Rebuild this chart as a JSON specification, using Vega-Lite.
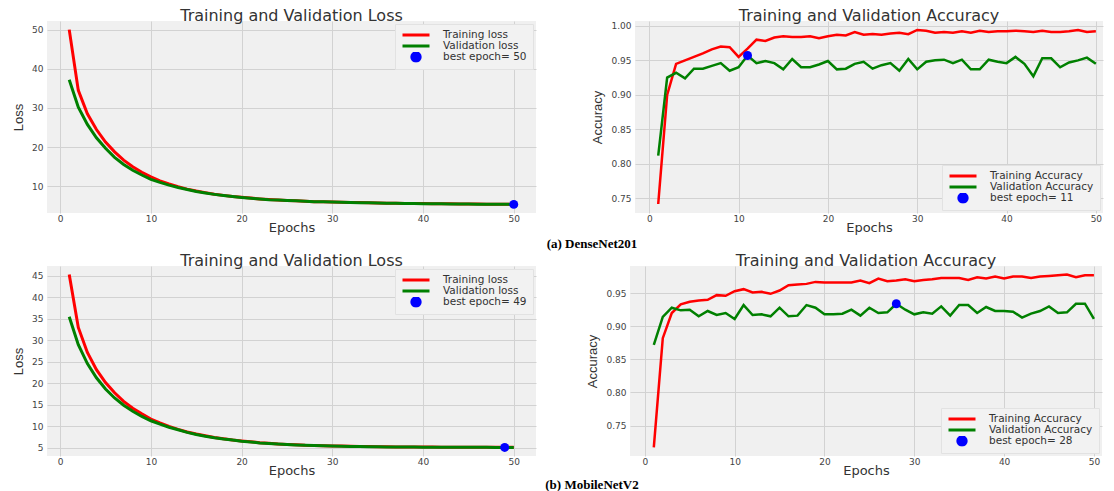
{
  "$schema": "https://vega.github.io/schema/vega-lite/v6.json",
  "padding": {"left": 12, "top": 8, "right": 0, "bottom": 0},
  "spacing": 2,
  "config": {
    "view": {"fill": "#f0f0f0", "stroke": null},
    "axis": {
      "labelFont": "DejaVu Sans", "labelFontSize": 9, "labelColor": "#444", "labelOverlap": false, "tickCount": 20,
      "titleFont": "DejaVu Sans", "titleFontSize": 13, "titleFontWeight": "normal", "titleColor": "#333",
      "domain": false, "ticks": false, "grid": true, "gridColor": "#d2d2d2", "gridWidth": 1,
      "labelPadding": 1, "titlePadding": -2
    },
    "axisY": {"titleFont": "Liberation Sans", "titleFontSize": 13, "titlePadding": 6, "labelPadding": 4},
    "title": {"font": "DejaVu Sans", "fontSize": 16, "fontWeight": "normal", "color": "#333", "offset": -3},
    "legend": {
      "labelFont": "DejaVu Sans", "labelFontSize": 10.5, "labelColor": "#333",
      "fillColor": "#f2f2f2", "strokeColor": "#e2e2e2", "padding": 6, "rowPadding": 0,
      "symbolStrokeWidth": 3, "labelLimit": 300, "symbolType": "stroke", "symbolSize": 729, "clipHeight": 10, "labelOffset": 12
    }
  },
  "datasets": {
    "hist": [
      {"model":"DenseNet201","epoch":1,"Training loss":50.0,"Validation loss":37.2,"Training Accuracy":0.742,"Validation Accuracy":0.812},
      {"model":"DenseNet201","epoch":2,"Training loss":34.5,"Validation loss":30.2,"Training Accuracy":0.900,"Validation Accuracy":0.925},
      {"model":"DenseNet201","epoch":3,"Training loss":28.5,"Validation loss":25.8,"Training Accuracy":0.945,"Validation Accuracy":0.932},
      {"model":"DenseNet201","epoch":4,"Training loss":24.5,"Validation loss":22.4,"Training Accuracy":0.950,"Validation Accuracy":0.924},
      {"model":"DenseNet201","epoch":5,"Training loss":21.3,"Validation loss":19.7,"Training Accuracy":0.955,"Validation Accuracy":0.938},
      {"model":"DenseNet201","epoch":6,"Training loss":18.8,"Validation loss":17.4,"Training Accuracy":0.960,"Validation Accuracy":0.938},
      {"model":"DenseNet201","epoch":7,"Training loss":16.7,"Validation loss":15.6,"Training Accuracy":0.966,"Validation Accuracy":0.942},
      {"model":"DenseNet201","epoch":8,"Training loss":15.0,"Validation loss":14.1,"Training Accuracy":0.970,"Validation Accuracy":0.946},
      {"model":"DenseNet201","epoch":9,"Training loss":13.6,"Validation loss":12.9,"Training Accuracy":0.969,"Validation Accuracy":0.935},
      {"model":"DenseNet201","epoch":10,"Training loss":12.4,"Validation loss":11.8,"Training Accuracy":0.955,"Validation Accuracy":0.940},
      {"model":"DenseNet201","epoch":11,"Training loss":11.4,"Validation loss":11.0,"Training Accuracy":0.967,"Validation Accuracy":0.957},
      {"model":"DenseNet201","epoch":12,"Training loss":10.6,"Validation loss":10.3,"Training Accuracy":0.980,"Validation Accuracy":0.946},
      {"model":"DenseNet201","epoch":13,"Training loss":9.9,"Validation loss":9.7,"Training Accuracy":0.978,"Validation Accuracy":0.949},
      {"model":"DenseNet201","epoch":14,"Training loss":9.3,"Validation loss":9.2,"Training Accuracy":0.983,"Validation Accuracy":0.946},
      {"model":"DenseNet201","epoch":15,"Training loss":8.8,"Validation loss":8.7,"Training Accuracy":0.985,"Validation Accuracy":0.937},
      {"model":"DenseNet201","epoch":16,"Training loss":8.4,"Validation loss":8.3,"Training Accuracy":0.984,"Validation Accuracy":0.952},
      {"model":"DenseNet201","epoch":17,"Training loss":8.0,"Validation loss":7.95,"Training Accuracy":0.984,"Validation Accuracy":0.940},
      {"model":"DenseNet201","epoch":18,"Training loss":7.7,"Validation loss":7.65,"Training Accuracy":0.985,"Validation Accuracy":0.940},
      {"model":"DenseNet201","epoch":19,"Training loss":7.4,"Validation loss":7.4,"Training Accuracy":0.982,"Validation Accuracy":0.944},
      {"model":"DenseNet201","epoch":20,"Training loss":7.2,"Validation loss":7.15,"Training Accuracy":0.985,"Validation Accuracy":0.949},
      {"model":"DenseNet201","epoch":21,"Training loss":7.0,"Validation loss":6.95,"Training Accuracy":0.987,"Validation Accuracy":0.937},
      {"model":"DenseNet201","epoch":22,"Training loss":6.8,"Validation loss":6.8,"Training Accuracy":0.986,"Validation Accuracy":0.938},
      {"model":"DenseNet201","epoch":23,"Training loss":6.65,"Validation loss":6.6,"Training Accuracy":0.991,"Validation Accuracy":0.945},
      {"model":"DenseNet201","epoch":24,"Training loss":6.5,"Validation loss":6.5,"Training Accuracy":0.987,"Validation Accuracy":0.948},
      {"model":"DenseNet201","epoch":25,"Training loss":6.4,"Validation loss":6.4,"Training Accuracy":0.988,"Validation Accuracy":0.938},
      {"model":"DenseNet201","epoch":26,"Training loss":6.3,"Validation loss":6.3,"Training Accuracy":0.987,"Validation Accuracy":0.943},
      {"model":"DenseNet201","epoch":27,"Training loss":6.2,"Validation loss":6.2,"Training Accuracy":0.989,"Validation Accuracy":0.946},
      {"model":"DenseNet201","epoch":28,"Training loss":6.1,"Validation loss":6.1,"Training Accuracy":0.990,"Validation Accuracy":0.935},
      {"model":"DenseNet201","epoch":29,"Training loss":6.05,"Validation loss":6.05,"Training Accuracy":0.988,"Validation Accuracy":0.952},
      {"model":"DenseNet201","epoch":30,"Training loss":6.0,"Validation loss":6.0,"Training Accuracy":0.994,"Validation Accuracy":0.937},
      {"model":"DenseNet201","epoch":31,"Training loss":5.95,"Validation loss":5.94,"Training Accuracy":0.993,"Validation Accuracy":0.948},
      {"model":"DenseNet201","epoch":32,"Training loss":5.9,"Validation loss":5.89,"Training Accuracy":0.990,"Validation Accuracy":0.950},
      {"model":"DenseNet201","epoch":33,"Training loss":5.85,"Validation loss":5.84,"Training Accuracy":0.991,"Validation Accuracy":0.951},
      {"model":"DenseNet201","epoch":34,"Training loss":5.8,"Validation loss":5.79,"Training Accuracy":0.990,"Validation Accuracy":0.946},
      {"model":"DenseNet201","epoch":35,"Training loss":5.76,"Validation loss":5.75,"Training Accuracy":0.992,"Validation Accuracy":0.951},
      {"model":"DenseNet201","epoch":36,"Training loss":5.72,"Validation loss":5.71,"Training Accuracy":0.990,"Validation Accuracy":0.937},
      {"model":"DenseNet201","epoch":37,"Training loss":5.68,"Validation loss":5.67,"Training Accuracy":0.993,"Validation Accuracy":0.937},
      {"model":"DenseNet201","epoch":38,"Training loss":5.65,"Validation loss":5.64,"Training Accuracy":0.991,"Validation Accuracy":0.951},
      {"model":"DenseNet201","epoch":39,"Training loss":5.62,"Validation loss":5.61,"Training Accuracy":0.992,"Validation Accuracy":0.948},
      {"model":"DenseNet201","epoch":40,"Training loss":5.6,"Validation loss":5.58,"Training Accuracy":0.992,"Validation Accuracy":0.946},
      {"model":"DenseNet201","epoch":41,"Training loss":5.57,"Validation loss":5.55,"Training Accuracy":0.993,"Validation Accuracy":0.955},
      {"model":"DenseNet201","epoch":42,"Training loss":5.55,"Validation loss":5.53,"Training Accuracy":0.992,"Validation Accuracy":0.945},
      {"model":"DenseNet201","epoch":43,"Training loss":5.53,"Validation loss":5.51,"Training Accuracy":0.991,"Validation Accuracy":0.927},
      {"model":"DenseNet201","epoch":44,"Training loss":5.51,"Validation loss":5.49,"Training Accuracy":0.993,"Validation Accuracy":0.953},
      {"model":"DenseNet201","epoch":45,"Training loss":5.49,"Validation loss":5.47,"Training Accuracy":0.991,"Validation Accuracy":0.953},
      {"model":"DenseNet201","epoch":46,"Training loss":5.47,"Validation loss":5.45,"Training Accuracy":0.991,"Validation Accuracy":0.940},
      {"model":"DenseNet201","epoch":47,"Training loss":5.45,"Validation loss":5.44,"Training Accuracy":0.992,"Validation Accuracy":0.947},
      {"model":"DenseNet201","epoch":48,"Training loss":5.44,"Validation loss":5.43,"Training Accuracy":0.994,"Validation Accuracy":0.950},
      {"model":"DenseNet201","epoch":49,"Training loss":5.43,"Validation loss":5.42,"Training Accuracy":0.991,"Validation Accuracy":0.954},
      {"model":"DenseNet201","epoch":50,"Training loss":5.42,"Validation loss":5.40,"Training Accuracy":0.992,"Validation Accuracy":0.945},
      {"model":"MobileNetV2","epoch":1,"Training loss":45.3,"Validation loss":35.5,"Training Accuracy":0.717,"Validation Accuracy":0.872},
      {"model":"MobileNetV2","epoch":2,"Training loss":33.0,"Validation loss":29.0,"Training Accuracy":0.882,"Validation Accuracy":0.914},
      {"model":"MobileNetV2","epoch":3,"Training loss":27.2,"Validation loss":24.6,"Training Accuracy":0.920,"Validation Accuracy":0.928},
      {"model":"MobileNetV2","epoch":4,"Training loss":23.2,"Validation loss":21.3,"Training Accuracy":0.933,"Validation Accuracy":0.924},
      {"model":"MobileNetV2","epoch":5,"Training loss":20.2,"Validation loss":18.7,"Training Accuracy":0.937,"Validation Accuracy":0.925},
      {"model":"MobileNetV2","epoch":6,"Training loss":17.8,"Validation loss":16.6,"Training Accuracy":0.939,"Validation Accuracy":0.915},
      {"model":"MobileNetV2","epoch":7,"Training loss":15.8,"Validation loss":14.9,"Training Accuracy":0.940,"Validation Accuracy":0.923},
      {"model":"MobileNetV2","epoch":8,"Training loss":14.2,"Validation loss":13.5,"Training Accuracy":0.947,"Validation Accuracy":0.917},
      {"model":"MobileNetV2","epoch":9,"Training loss":12.9,"Validation loss":12.3,"Training Accuracy":0.946,"Validation Accuracy":0.920},
      {"model":"MobileNetV2","epoch":10,"Training loss":11.7,"Validation loss":11.3,"Training Accuracy":0.953,"Validation Accuracy":0.911},
      {"model":"MobileNetV2","epoch":11,"Training loss":10.8,"Validation loss":10.5,"Training Accuracy":0.956,"Validation Accuracy":0.932},
      {"model":"MobileNetV2","epoch":12,"Training loss":10.0,"Validation loss":9.8,"Training Accuracy":0.951,"Validation Accuracy":0.917},
      {"model":"MobileNetV2","epoch":13,"Training loss":9.3,"Validation loss":9.2,"Training Accuracy":0.952,"Validation Accuracy":0.918},
      {"model":"MobileNetV2","epoch":14,"Training loss":8.7,"Validation loss":8.6,"Training Accuracy":0.949,"Validation Accuracy":0.915},
      {"model":"MobileNetV2","epoch":15,"Training loss":8.2,"Validation loss":8.1,"Training Accuracy":0.954,"Validation Accuracy":0.928},
      {"model":"MobileNetV2","epoch":16,"Training loss":7.8,"Validation loss":7.7,"Training Accuracy":0.962,"Validation Accuracy":0.915},
      {"model":"MobileNetV2","epoch":17,"Training loss":7.4,"Validation loss":7.35,"Training Accuracy":0.963,"Validation Accuracy":0.916},
      {"model":"MobileNetV2","epoch":18,"Training loss":7.1,"Validation loss":7.05,"Training Accuracy":0.964,"Validation Accuracy":0.932},
      {"model":"MobileNetV2","epoch":19,"Training loss":6.8,"Validation loss":6.8,"Training Accuracy":0.967,"Validation Accuracy":0.928},
      {"model":"MobileNetV2","epoch":20,"Training loss":6.6,"Validation loss":6.55,"Training Accuracy":0.966,"Validation Accuracy":0.918},
      {"model":"MobileNetV2","epoch":21,"Training loss":6.4,"Validation loss":6.35,"Training Accuracy":0.966,"Validation Accuracy":0.918},
      {"model":"MobileNetV2","epoch":22,"Training loss":6.2,"Validation loss":6.15,"Training Accuracy":0.966,"Validation Accuracy":0.919},
      {"model":"MobileNetV2","epoch":23,"Training loss":6.05,"Validation loss":6.0,"Training Accuracy":0.966,"Validation Accuracy":0.925},
      {"model":"MobileNetV2","epoch":24,"Training loss":5.9,"Validation loss":5.87,"Training Accuracy":0.969,"Validation Accuracy":0.916},
      {"model":"MobileNetV2","epoch":25,"Training loss":5.8,"Validation loss":5.76,"Training Accuracy":0.965,"Validation Accuracy":0.928},
      {"model":"MobileNetV2","epoch":26,"Training loss":5.7,"Validation loss":5.66,"Training Accuracy":0.972,"Validation Accuracy":0.920},
      {"model":"MobileNetV2","epoch":27,"Training loss":5.6,"Validation loss":5.58,"Training Accuracy":0.968,"Validation Accuracy":0.921},
      {"model":"MobileNetV2","epoch":28,"Training loss":5.55,"Validation loss":5.52,"Training Accuracy":0.969,"Validation Accuracy":0.934},
      {"model":"MobileNetV2","epoch":29,"Training loss":5.5,"Validation loss":5.46,"Training Accuracy":0.971,"Validation Accuracy":0.925},
      {"model":"MobileNetV2","epoch":30,"Training loss":5.45,"Validation loss":5.41,"Training Accuracy":0.968,"Validation Accuracy":0.918},
      {"model":"MobileNetV2","epoch":31,"Training loss":5.4,"Validation loss":5.37,"Training Accuracy":0.970,"Validation Accuracy":0.921},
      {"model":"MobileNetV2","epoch":32,"Training loss":5.36,"Validation loss":5.33,"Training Accuracy":0.971,"Validation Accuracy":0.919},
      {"model":"MobileNetV2","epoch":33,"Training loss":5.32,"Validation loss":5.3,"Training Accuracy":0.973,"Validation Accuracy":0.930},
      {"model":"MobileNetV2","epoch":34,"Training loss":5.29,"Validation loss":5.27,"Training Accuracy":0.973,"Validation Accuracy":0.916},
      {"model":"MobileNetV2","epoch":35,"Training loss":5.26,"Validation loss":5.24,"Training Accuracy":0.973,"Validation Accuracy":0.932},
      {"model":"MobileNetV2","epoch":36,"Training loss":5.24,"Validation loss":5.22,"Training Accuracy":0.970,"Validation Accuracy":0.932},
      {"model":"MobileNetV2","epoch":37,"Training loss":5.22,"Validation loss":5.2,"Training Accuracy":0.974,"Validation Accuracy":0.920},
      {"model":"MobileNetV2","epoch":38,"Training loss":5.2,"Validation loss":5.18,"Training Accuracy":0.972,"Validation Accuracy":0.929},
      {"model":"MobileNetV2","epoch":39,"Training loss":5.19,"Validation loss":5.17,"Training Accuracy":0.975,"Validation Accuracy":0.923},
      {"model":"MobileNetV2","epoch":40,"Training loss":5.18,"Validation loss":5.16,"Training Accuracy":0.972,"Validation Accuracy":0.923},
      {"model":"MobileNetV2","epoch":41,"Training loss":5.17,"Validation loss":5.15,"Training Accuracy":0.975,"Validation Accuracy":0.922},
      {"model":"MobileNetV2","epoch":42,"Training loss":5.16,"Validation loss":5.14,"Training Accuracy":0.975,"Validation Accuracy":0.913},
      {"model":"MobileNetV2","epoch":43,"Training loss":5.15,"Validation loss":5.13,"Training Accuracy":0.973,"Validation Accuracy":0.919},
      {"model":"MobileNetV2","epoch":44,"Training loss":5.15,"Validation loss":5.12,"Training Accuracy":0.975,"Validation Accuracy":0.923},
      {"model":"MobileNetV2","epoch":45,"Training loss":5.14,"Validation loss":5.12,"Training Accuracy":0.976,"Validation Accuracy":0.930},
      {"model":"MobileNetV2","epoch":46,"Training loss":5.13,"Validation loss":5.11,"Training Accuracy":0.977,"Validation Accuracy":0.920},
      {"model":"MobileNetV2","epoch":47,"Training loss":5.13,"Validation loss":5.11,"Training Accuracy":0.978,"Validation Accuracy":0.921},
      {"model":"MobileNetV2","epoch":48,"Training loss":5.12,"Validation loss":5.10,"Training Accuracy":0.974,"Validation Accuracy":0.934},
      {"model":"MobileNetV2","epoch":49,"Training loss":5.12,"Validation loss":5.09,"Training Accuracy":0.977,"Validation Accuracy":0.934},
      {"model":"MobileNetV2","epoch":50,"Training loss":5.12,"Validation loss":5.10,"Training Accuracy":0.977,"Validation Accuracy":0.911}
    ],
    "best": [
      {"model":"DenseNet201","kind":"loss","epoch":50,"value":5.40,"series":"best epoch= 50"},
      {"model":"DenseNet201","kind":"acc","epoch":11,"value":0.957,"series":"best epoch= 11"},
      {"model":"MobileNetV2","kind":"loss","epoch":49,"value":5.09,"series":"best epoch= 49"},
      {"model":"MobileNetV2","kind":"acc","epoch":28,"value":0.934,"series":"best epoch= 28"}
    ],
    "captions": [
      {"row":"a","caption":"(a) DenseNet201"},
      {"row":"b","caption":"(b) MobileNetV2"}
    ]
  },
  "resolve": {"scale": {"color": "independent"}, "legend": {"color": "independent"}},
  "vconcat": [
    {
      "spacing": 55,
      "resolve": {"scale": {"color": "independent"}, "legend": {"color": "independent"}},
      "hconcat": [
        {
          "width": 489, "height": 192,
          "title": "Training and Validation Loss",
          "layer": [
            {
              "data": {"name": "hist"},
              "transform": [{"filter": "datum.model === 'DenseNet201'"}, {"fold": ["Training loss", "Validation loss"], "as": ["series", "value"]}],
              "mark": {"type": "line", "strokeWidth": 3},
              "encoding": {
                "x": {"field": "epoch", "type": "quantitative", "scale": {"domain": [-1.45, 52.45], "nice": false, "zero": false}, "axis": {"values": [0, 10, 20, 30, 40, 50], "title": "Epochs", "labelOverlap": false, "tickCount": 20}},
                "y": {"field": "value", "type": "quantitative", "scale": {"domain": [3.2, 52.2], "nice": false, "zero": false}, "axis": {"values": [10, 20, 30, 40, 50], "title": "Loss", "labelOverlap": false, "tickCount": 20}},
                "color": {"field": "series", "type": "nominal", "sort": null,
                  "scale": {"domain": ["Training loss", "Validation loss", "best epoch= 50"], "range": ["#ff0000", "#008000", "#0000ff"]},
                  "legend": {"title": null, "orient": "top-right", "offset": 3,
                    "encode": {"symbols": {"update": {
                      "shape": {"signal": "datum.value === 'best epoch= 50' ? 'circle' : 'stroke'"},
                      "size": {"signal": "datum.value === 'best epoch= 50' ? 70 : 729"},
                      "fill": {"signal": "datum.value === 'best epoch= 50' ? '#0000ff' : 'transparent'"}}}}}}
              }
            },
            {
              "data": {"name": "best"},
              "transform": [{"filter": "datum.model === 'DenseNet201' && datum.kind === 'loss'"}],
              "mark": {"type": "point", "filled": true, "size": 80, "opacity": 1},
              "encoding": {
                "x": {"field": "epoch", "type": "quantitative"},
                "y": {"field": "value", "type": "quantitative"},
                "color": {"field": "series", "type": "nominal"}
              }
            }
          ]
        },
        {
          "width": 468, "height": 192,
          "title": "Training and Validation Accuracy",
          "layer": [
            {
              "data": {"name": "hist"},
              "transform": [{"filter": "datum.model === 'DenseNet201'"}, {"fold": ["Training Accuracy", "Validation Accuracy"], "as": ["series", "value"]}],
              "mark": {"type": "line", "strokeWidth": 2.5},
              "encoding": {
                "x": {"field": "epoch", "type": "quantitative", "scale": {"domain": [-1.6, 50.8], "nice": false, "zero": false}, "axis": {"values": [0, 10, 20, 30, 40, 50], "title": "Epochs", "labelOverlap": false, "tickCount": 20}},
                "y": {"field": "value", "type": "quantitative", "scale": {"domain": [0.729, 1.007], "nice": false, "zero": false}, "axis": {"values": [0.75, 0.8, 0.85, 0.9, 0.95, 1.0], "format": ".2f", "title": "Accuracy", "labelOverlap": false, "tickCount": 20}},
                "color": {"field": "series", "type": "nominal", "sort": null,
                  "scale": {"domain": ["Training Accuracy", "Validation Accuracy", "best epoch= 11"], "range": ["#ff0000", "#008000", "#0000ff"]},
                  "legend": {"title": null, "orient": "bottom-right", "offset": 3,
                    "encode": {"symbols": {"update": {
                      "shape": {"signal": "datum.value === 'best epoch= 11' ? 'circle' : 'stroke'"},
                      "size": {"signal": "datum.value === 'best epoch= 11' ? 70 : 729"},
                      "fill": {"signal": "datum.value === 'best epoch= 11' ? '#0000ff' : 'transparent'"}}}}}}
              }
            },
            {
              "data": {"name": "best"},
              "transform": [{"filter": "datum.model === 'DenseNet201' && datum.kind === 'acc'"}],
              "mark": {"type": "point", "filled": true, "size": 80, "opacity": 1},
              "encoding": {
                "x": {"field": "epoch", "type": "quantitative"},
                "y": {"field": "value", "type": "quantitative"},
                "color": {"field": "series", "type": "nominal"}
              }
            }
          ]
        }
      ]
    },
    {
      "width": 1090, "height": 15,
      "view": {"fill": null, "stroke": null},
      "data": {"name": "captions"},
      "transform": [{"filter": "datum.row === 'a'"}],
      "mark": {"type": "text", "font": "Liberation Serif", "fontSize": 13, "fontWeight": "bold", "color": "#000"},
      "encoding": {"text": {"field": "caption", "type": "nominal"}}
    },
    {
      "spacing": 50,
      "resolve": {"scale": {"color": "independent"}, "legend": {"color": "independent"}},
      "hconcat": [
        {
          "width": 489, "height": 190,
          "title": "Training and Validation Loss",
          "layer": [
            {
              "data": {"name": "hist"},
              "transform": [{"filter": "datum.model === 'MobileNetV2'"}, {"fold": ["Training loss", "Validation loss"], "as": ["series", "value"]}],
              "mark": {"type": "line", "strokeWidth": 3},
              "encoding": {
                "x": {"field": "epoch", "type": "quantitative", "scale": {"domain": [-1.45, 52.45], "nice": false, "zero": false}, "axis": {"values": [0, 10, 20, 30, 40, 50], "title": "Epochs", "labelOverlap": false, "tickCount": 20}},
                "y": {"field": "value", "type": "quantitative", "scale": {"domain": [3.1, 47.3], "nice": false, "zero": false}, "axis": {"values": [5, 10, 15, 20, 25, 30, 35, 40, 45], "title": "Loss", "labelOverlap": false, "tickCount": 20}},
                "color": {"field": "series", "type": "nominal", "sort": null,
                  "scale": {"domain": ["Training loss", "Validation loss", "best epoch= 49"], "range": ["#ff0000", "#008000", "#0000ff"]},
                  "legend": {"title": null, "orient": "top-right", "offset": 3,
                    "encode": {"symbols": {"update": {
                      "shape": {"signal": "datum.value === 'best epoch= 49' ? 'circle' : 'stroke'"},
                      "size": {"signal": "datum.value === 'best epoch= 49' ? 70 : 729"},
                      "fill": {"signal": "datum.value === 'best epoch= 49' ? '#0000ff' : 'transparent'"}}}}}}
              }
            },
            {
              "data": {"name": "best"},
              "transform": [{"filter": "datum.model === 'MobileNetV2' && datum.kind === 'loss'"}],
              "mark": {"type": "point", "filled": true, "size": 80, "opacity": 1},
              "encoding": {
                "x": {"field": "epoch", "type": "quantitative"},
                "y": {"field": "value", "type": "quantitative"},
                "color": {"field": "series", "type": "nominal"}
              }
            }
          ]
        },
        {
          "width": 472, "height": 190,
          "title": "Training and Validation Accuracy",
          "layer": [
            {
              "data": {"name": "hist"},
              "transform": [{"filter": "datum.model === 'MobileNetV2'"}, {"fold": ["Training Accuracy", "Validation Accuracy"], "as": ["series", "value"]}],
              "mark": {"type": "line", "strokeWidth": 2.5},
              "encoding": {
                "x": {"field": "epoch", "type": "quantitative", "scale": {"domain": [-1.65, 50.9], "nice": false, "zero": false}, "axis": {"values": [0, 10, 20, 30, 40, 50], "title": "Epochs", "labelOverlap": false, "tickCount": 20}},
                "y": {"field": "value", "type": "quantitative", "scale": {"domain": [0.704, 0.991], "nice": false, "zero": false}, "axis": {"values": [0.75, 0.8, 0.85, 0.9, 0.95], "format": ".2f", "title": "Accuracy", "labelOverlap": false, "tickCount": 20}},
                "color": {"field": "series", "type": "nominal", "sort": null,
                  "scale": {"domain": ["Training Accuracy", "Validation Accuracy", "best epoch= 28"], "range": ["#ff0000", "#008000", "#0000ff"]},
                  "legend": {"title": null, "orient": "bottom-right", "offset": 3,
                    "encode": {"symbols": {"update": {
                      "shape": {"signal": "datum.value === 'best epoch= 28' ? 'circle' : 'stroke'"},
                      "size": {"signal": "datum.value === 'best epoch= 28' ? 70 : 729"},
                      "fill": {"signal": "datum.value === 'best epoch= 28' ? '#0000ff' : 'transparent'"}}}}}}
              }
            },
            {
              "data": {"name": "best"},
              "transform": [{"filter": "datum.model === 'MobileNetV2' && datum.kind === 'acc'"}],
              "mark": {"type": "point", "filled": true, "size": 80, "opacity": 1},
              "encoding": {
                "x": {"field": "epoch", "type": "quantitative"},
                "y": {"field": "value", "type": "quantitative"},
                "color": {"field": "series", "type": "nominal"}
              }
            }
          ]
        }
      ]
    },
    {
      "width": 1090, "height": 10,
      "view": {"fill": null, "stroke": null},
      "data": {"name": "captions"},
      "transform": [{"filter": "datum.row === 'b'"}],
      "mark": {"type": "text", "font": "Liberation Serif", "fontSize": 13, "fontWeight": "bold", "color": "#000"},
      "encoding": {"text": {"field": "caption", "type": "nominal"}}
    }
  ]
}
